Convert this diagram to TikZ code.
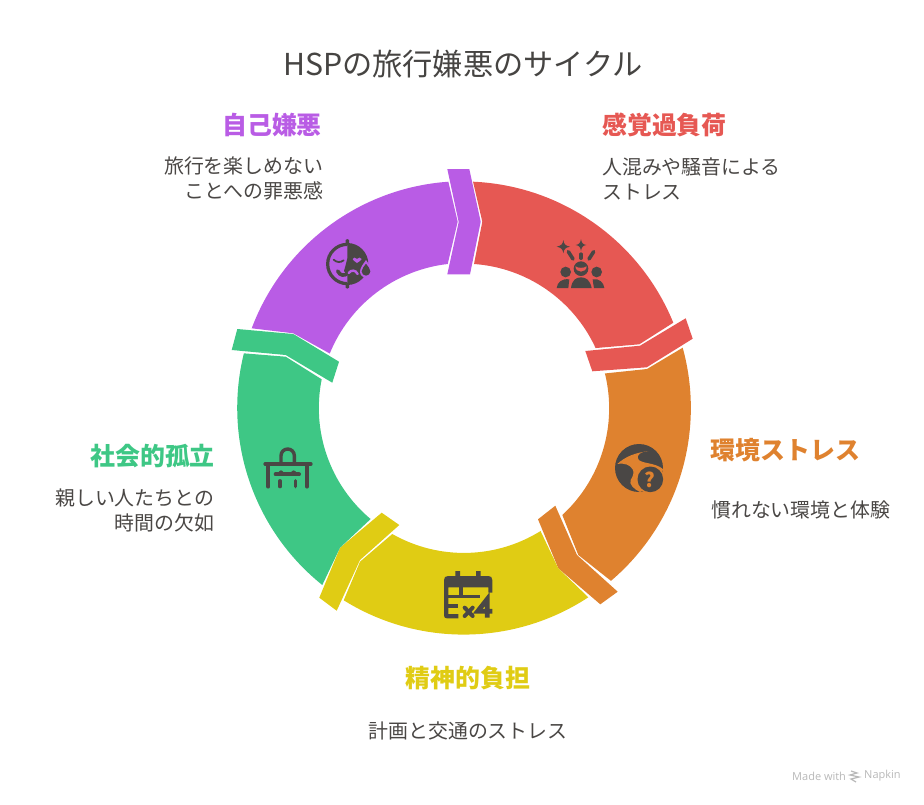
\documentclass[tikz,border=0pt]{standalone}
\usepackage{fontspec}
\setmainfont{Noto Sans CJK JP}
\newfontfamily\wmfont{Open Sans}
\definecolor{segred}{HTML}{E65853}
\definecolor{segorange}{HTML}{DF822F}
\definecolor{segyellow}{HTML}{E0CC14}
\definecolor{seggreen}{HTML}{3EC785}
\definecolor{segpurple}{HTML}{B95CE5}
\definecolor{icondark}{HTML}{4A4745}
\tikzset{
	title/.style={font=\fontsize{30.2}{34}\selectfont, text=icondark!95!black},
	head/.style={font=\fontsize{24.9}{28}\selectfont\bfseries, inner sep=0pt},
	body/.style={font=\fontsize{19.9}{25}\selectfont, text=icondark, inner sep=0pt},
	iconfill/.style={fill=icondark},
	iconline/.style={draw=icondark, line cap=round},
	iconbox/.style={scale=1/3},
}
\begin{document}
\begin{tikzpicture}[x=1pt,y=-1pt]
	\useasboundingbox (0,0) rectangle (924,804);

	% ring, body of each part and then its tab
	\fill[segred] (673.3,322.7) arc (-22.2:-87.5:227) -- (482.3,221.7) -- (474,264) arc (-86:-24.7:145) -- (639.3,344.3) -- cycle;
	\fill[segred] (585.3,351) -- (640,345.7) -- (685.7,318.3) -- (692.7,338.7) -- (646.7,367.3) -- (592.3,371.3) -- cycle;
	\fill[segorange] (682.7,347.7) arc (-15.4:49.6:227) -- (578.3,555) -- (562.3,515) arc (47.4:-13.9:145) -- (647,369) -- cycle;
	\fill[segorange] (538,519.3) -- (555.3,505.7) -- (577,555) -- (617.7,591.7) -- (600.3,604.3) -- (558.3,568.3) -- cycle;
	\fill[segyellow] (588.3,597.3) arc (56.7:121.9:227) -- (360,561.7) -- (392.3,534) arc (119.6:58.1:145) -- (558.3,568.3) -- cycle;
	\fill[segyellow] (381.7,512.7) -- (399.3,525) -- (360,560) -- (336.7,610.7) -- (319.3,597.7) -- (340,547.7) -- cycle;
	\fill[seggreen] (322.3,585) arc (128.7:193.9:227) -- (285.7,356.7) -- (321.7,379.3) arc (191.4:130:145) -- (340,547.7) -- cycle;
	\fill[seggreen] (237.3,329) -- (293.3,334) -- (339,361.7) -- (332.3,382.7) -- (285.7,355) -- (231.7,350) -- cycle;
	\fill[segpurple] (251.7,328.3) arc (200.6:266:227) -- (457.7,221.7) -- (447.7,264) arc (263.5:202.1:145) -- (293.3,333.3) -- cycle;
	\fill[segpurple] (447.3,169) -- (469.3,169) -- (480.7,221.7) -- (470,274.3) -- (447.3,274.3) -- (458.7,222) -- cycle;

	% crowd
	\begin{scope}[shift={(540,225)},iconbox]
		\fill[iconfill] (70,45) .. controls (72,58) and (76,62) .. (90,65) .. controls (76,68) and (72,72) .. (70,85) .. controls (68,72) and (64,68) .. (50,65) .. controls (64,62) and (68,58) .. (70,45) -- cycle;
		\fill[iconfill] (123,42) .. controls (125,54) and (128,58) .. (139,60) .. controls (128,62) and (125,66) .. (123,78) .. controls (121,66) and (118,62) .. (107,60) .. controls (118,58) and (121,54) .. (123,42) -- cycle;
		\draw[iconline,line width=3.6pt] (85,80) -- (99,102);
		\draw[iconline,line width=3.2pt] (123,87) -- (123,100);
		\draw[iconline,line width=3.6pt] (161,80) -- (147,102);
		\fill[iconfill] (123,131) circle (22);
		\fill[segred] (106,124) .. controls (115,130) and (131,130) .. (140,124) .. controls (139,145) and (107,145) .. (106,124) -- cycle;
		\fill[iconfill] (77,141) circle (16);
		\fill[iconfill] (170,141) circle (16);
		\fill[iconfill] (93,189) .. controls (96,165) and (108,157) .. (123,157) .. controls (138,157) and (150,165) .. (155,189) -- cycle;
		\fill[iconfill] (50,189) .. controls (52,172) and (65,160) .. (88,163) .. controls (88,170) and (85,180) .. (85,189) -- cycle;
		\fill[iconfill] (193,189) .. controls (191,172) and (178,160) .. (158,163) .. controls (158,170) and (161,180) .. (162,189) -- cycle;
	\end{scope}

	% globe
	\begin{scope}[shift={(530,340)},iconbox]
		\fill[iconfill] (327,384) circle (72);
		\fill[segorange] (262,372) .. controls (285,350) and (318,337) .. (355,334) .. controls (332,334) and (320,345) .. (324,356) .. controls (330,372) and (375,366) .. (400,388) -- (372,440) -- (330,456) .. controls (312,448) and (296,432) .. (302,420) .. controls (308,410) and (314,398) .. (308,388) .. controls (300,375) and (285,368) .. (262,372) -- cycle;
		\fill[segorange] (361,418) circle (43);
		\fill[iconfill] (361,418) circle (38.5);
		\node[text=segorange, inner sep=0pt, font=\fontsize{20}{20}\selectfont\bfseries] (helpmark) at (361,418) {?};
	\end{scope}

	% calendar
	\begin{scope}[shift={(310,500)},iconbox]
		\fill[iconfill] (402,346) -- (402,240) .. controls (402,232) and (406,228) .. (414,228) -- (436,228) -- (436,213) -- (450,213) -- (450,228) -- (498,228) -- (498,213) -- (512,213) -- (512,228) -- (535,228) .. controls (543,228) and (547,232) .. (547,240) -- (547,278) -- (535,278) -- (535,262) -- (415,262) -- (415,342) -- (445,342) -- (445,355) -- (411,355) .. controls (405,355) and (402,352) .. (402,346) -- cycle;
		\fill[iconfill] (415,285) rectangle (510,295);
		\fill[iconfill] (447,262) rectangle (459,288);
		\fill[iconfill] (415,313) rectangle (445,324);
		\draw[iconline,line width=4pt] (464,323) -- (488,348);
		\draw[iconline,line width=4pt] (488,323) -- (464,348);
		\draw[icondark,line width=4.8pt,line join=miter] (532,353) -- (532,297) -- (503,334) -- (547,334);
	\end{scope}

	% desk
	\begin{scope}[shift={(255,435)},iconbox]
		\draw[iconline,line width=4pt] (31,87) -- (167,87);
		\draw[iconline,line width=3.8pt] (40,90) -- (40,155);
		\draw[iconline,line width=3.8pt] (156,90) -- (156,155);
		\draw[iconline,line width=3.4pt] (78,85) -- (78,62) arc (180:360:20) -- (118,85);
		\draw[iconline,line width=4pt] (62,118) -- (132,118);
		\fill[iconfill] (68,118) .. controls (72,102) and (84,102) .. (88,118) -- cycle;
		\fill[iconfill] (106,118) .. controls (110,102) and (122,102) .. (126,118) -- cycle;
		\draw[iconline,line width=3.2pt] (75,137) -- (75,155);
		\draw[iconline,line width=3.2pt] (122,137) -- (122,155);
	\end{scope}

	% face
	\begin{scope}[shift={(240,165)},iconbox]
		\draw[icondark,line width=3.2pt] (322,238) arc (-90:-270:59);
		\fill[iconfill] (322,234) arc (-90:90:63) -- (322,330) -- (312,318) -- (317,300) -- (322,280) -- cycle;
		\fill[iconfill] (317,225) -- (322,222) -- (327,225) -- (327,240) -- (317,240) -- cycle;
		\fill[iconfill] (317,368) -- (322,371) -- (327,368) -- (327,354) -- (317,354) -- cycle;
		\draw[iconline,line width=1.8pt] (281,284) .. controls (290,293) and (302,293) .. (311,286);
		\fill[segpurple] (351,294) .. controls (344,288) and (338,286) .. (338,282) .. controls (339,276) and (348,277) .. (351,282) .. controls (354,277) and (363,276) .. (365,282) .. controls (365,286) and (358,288) .. (351,294) -- cycle;
		\draw[iconline,line width=3.6pt] (293,318) .. controls (300,333) and (314,333) .. (322,325);
		\draw[segpurple,line width=2.4pt,line cap=round] (326,324) .. controls (334,314) and (346,314) .. (353,327);
		\fill[segpurple] (378,285) .. controls (386,297) and (396,308) .. (396,320) arc (0:180:18) .. controls (360,308) and (370,297) .. (378,285) -- cycle;
		\fill[iconfill] (378,296) .. controls (384,304) and (391,312) .. (391,319) arc (0:180:13) .. controls (365,312) and (372,304) .. (378,296) -- cycle;
	\end{scope}

	\node[title] (titlehsp) at (463,64) {HSPの旅行嫌悪のサイクル};

	\node[head, text=segred, anchor=west] (headsense) at (602,125) {感覚過負荷};
	\node[body, anchor=west, align=left] (bodysense) at (602,179) {人混みや騒音による\\ストレス};
	\node[head, text=segorange, anchor=west] (headenv) at (710.5,450) {環境ストレス};
	\node[body, anchor=west] (bodyenv) at (711,510) {慣れない環境と体験};
	\node[head, text=segyellow, anchor=center] (headmind) at (468,678) {精神的負担};
	\node[body, anchor=center] (bodymind) at (468,731) {計画と交通のストレス};
	\node[head, text=seggreen, anchor=east] (headalone) at (215,456) {社会的孤立};
	\node[body, anchor=east, align=right] (bodyalone) at (214.5,510) {親しい人たちとの\\時間の欠如};
	\node[head, text=segpurple, anchor=east] (headself) at (322,125) {自己嫌悪};
	\node[body, anchor=east, align=right] (bodyself) at (323.5,179) {旅行を楽しめない\\ことへの罪悪感};

	% watermark
	\node[anchor=west, inner sep=0pt, text=black!28, font=\wmfont\fontsize{11}{12}\selectfont] (wmmade) at (792,776) {Made with};
	\node[anchor=west, inner sep=0pt, text=black!28, font=\wmfont\fontsize{11}{12}\selectfont] (wmnapkin) at (864,776) {Napkin};
	\draw[black!28,line width=1.2pt] (851,771) -- (857,773) -- (850,775) -- (859,777) -- (851,779) -- (856,782);
\end{tikzpicture}
\end{document}
